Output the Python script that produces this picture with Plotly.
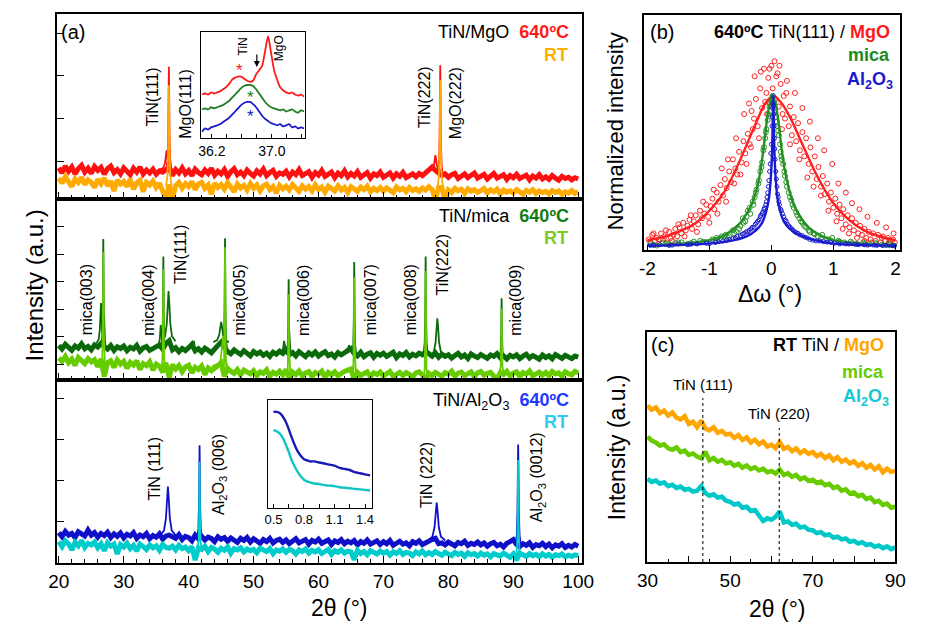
import numpy as np
import plotly.graph_objects as go

W, H = 928, 624
FONT = "Liberation Sans, Arial, Helvetica, sans-serif"

# ======================= DATA =======================
# ---- (a) 2theta scans 20-100 deg, background level every 0.5 deg (a.u.) ----
mgo_640_base = [
    0.84,0.72,0.88,0.76,0.86,0.70,0.82,0.90,0.74,0.83,
    0.71,0.87,0.78,0.85,0.69,0.82,0.88,0.73,0.80,0.70,
    0.84,0.76,0.68,0.83,0.74,0.86,0.70,0.79,0.72,0.81,
    0.69,0.77,0.74,0.80,0.82,0.66,0.80,0.72,0.84,0.70,
    0.78,0.66,0.81,0.73,0.68,0.79,0.71,0.83,0.67,0.76,
    0.70,0.80,0.64,0.75,0.82,0.68,0.74,0.66,0.79,0.71,
    0.65,0.77,0.70,0.81,0.66,0.73,0.78,0.64,0.72,0.69,
    0.76,0.63,0.74,0.68,0.80,0.66,0.71,0.75,0.62,0.73,
    0.67,0.78,0.64,0.70,0.74,0.61,0.72,0.66,0.77,0.63,
    0.71,0.65,0.75,0.62,0.69,0.73,0.60,0.70,0.66,0.74,
    0.62,0.68,0.72,0.60,0.70,0.64,0.73,0.61,0.67,0.70,
    0.63,0.71,0.66,0.74,0.80,0.86,0.78,0.72,0.66,0.70,
    0.62,0.68,0.71,0.59,0.66,0.70,0.61,0.67,0.72,0.60,
    0.65,0.69,0.58,0.66,0.71,0.60,0.64,0.68,0.57,0.66,
    0.61,0.69,0.59,0.64,0.67,0.56,0.65,0.60,0.68,0.58,
    0.63,0.57,0.66,0.60,0.55,0.64,0.59,0.62,0.56,0.61,
    0.58]
mgo_rt_base = [
    0.60,0.48,0.63,0.52,0.40,0.58,0.50,0.62,0.45,0.56,
    0.50,0.38,0.57,0.47,0.60,0.42,0.53,0.30,0.55,0.46,
    0.52,0.40,0.58,0.34,0.49,0.55,0.28,0.50,0.44,0.53,
    0.38,0.48,0.30,0.10,0.45,0.12,0.42,0.50,0.36,0.47,
    0.40,0.52,0.33,0.46,0.50,0.36,0.44,0.22,0.48,0.38,
    0.45,0.34,0.49,0.40,0.28,0.46,0.37,0.43,0.32,0.47,
    0.36,0.44,0.30,0.42,0.46,0.33,0.40,0.25,0.43,0.35,
    0.41,0.32,0.45,0.37,0.29,0.42,0.34,0.40,0.30,0.44,
    0.33,0.39,0.27,0.41,0.35,0.30,0.42,0.32,0.38,0.26,
    0.40,0.34,0.29,0.39,0.33,0.41,0.28,0.36,0.31,0.38,
    0.30,0.37,0.33,0.26,0.39,0.32,0.36,0.28,0.38,0.31,
    0.35,0.29,0.37,0.32,0.40,0.33,0.08,0.38,0.38,0.06,
    0.32,0.26,0.36,0.30,0.34,0.24,0.35,0.29,0.33,0.27,
    0.31,0.36,0.25,0.33,0.28,0.34,0.23,0.32,0.27,0.30,
    0.25,0.33,0.28,0.22,0.31,0.27,0.33,0.24,0.30,0.26,
    0.29,0.23,0.31,0.26,0.30,0.22,0.28,0.25,0.31,0.24,
    0.28]
mica_640_base = [
    1.68,1.55,1.72,1.60,1.50,1.66,1.58,1.74,1.56,1.64,
    1.52,1.70,1.62,1.75,1.65,1.55,1.68,1.50,1.63,1.57,
    1.66,1.49,1.61,1.55,1.68,1.47,1.59,1.64,1.50,1.58,
    1.62,1.70,1.54,1.75,1.85,1.52,1.60,1.45,1.57,1.49,
    1.60,1.72,1.48,1.56,1.44,1.58,1.50,1.41,1.55,1.70,
    1.80,1.62,1.45,1.38,1.52,1.43,1.35,1.49,1.40,1.30,
    1.46,1.37,1.44,1.32,1.40,1.28,1.43,1.36,1.47,1.39,
    1.52,1.34,1.42,1.30,1.45,1.36,1.27,1.41,1.33,1.44,
    1.29,1.38,1.45,1.31,1.37,1.26,1.42,1.34,1.40,1.50,
    1.56,1.38,1.30,1.43,1.27,1.36,1.41,1.25,1.39,1.32,
    1.40,1.28,1.35,1.43,1.24,1.37,1.31,1.42,1.26,1.36,
    1.30,1.40,1.34,1.45,1.38,1.29,1.41,1.25,1.36,1.28,
    1.34,1.22,1.31,1.39,1.26,1.33,1.20,1.37,1.29,1.24,
    1.35,1.27,1.21,1.33,1.28,1.38,1.23,1.30,1.19,1.32,
    1.26,1.34,1.20,1.29,1.36,1.22,1.31,1.25,1.18,1.33,
    1.24,1.30,1.19,1.35,1.27,1.21,1.32,1.26,1.20,1.29,
    1.25]
mica_rt_base = [
    1.22,1.10,1.28,1.05,1.18,0.95,1.24,1.12,1.02,1.20,
    1.08,1.16,0.90,1.19,0.55,1.05,1.12,0.88,1.15,1.00,
    1.10,0.85,1.06,0.96,1.12,0.80,1.02,0.94,1.08,0.78,
    1.00,0.92,0.70,1.05,0.50,0.98,0.82,0.95,0.72,0.90,
    0.96,0.68,0.88,0.80,0.93,0.62,0.86,0.76,0.90,0.95,
    1.05,0.55,0.85,0.74,0.66,0.80,0.60,0.78,0.70,0.64,
    0.76,0.58,0.72,0.66,0.79,0.56,0.70,0.63,0.74,0.60,
    0.80,0.45,0.71,0.62,0.75,0.57,0.68,0.73,0.55,0.69,
    0.64,0.74,0.52,0.70,0.61,0.72,0.58,0.67,0.73,0.78,
    0.82,0.40,0.70,0.59,0.66,0.72,0.54,0.68,0.62,0.71,
    0.57,0.67,0.73,0.55,0.65,0.70,0.58,0.69,0.63,0.52,
    0.68,0.72,0.60,0.45,0.66,0.58,0.70,0.62,0.56,0.69,
    0.63,0.74,0.55,0.67,0.71,0.58,0.65,0.72,0.54,0.68,
    0.73,0.60,0.66,0.70,0.56,0.45,0.69,0.62,0.74,0.58,
    0.67,0.72,0.55,0.69,0.64,0.75,0.57,0.66,0.71,0.60,
    0.70,0.58,0.73,0.64,0.68,0.56,0.72,0.65,0.61,0.74,
    0.68]
al2o3_640_base = [
    0.72,0.62,0.75,0.66,0.70,0.60,0.74,0.68,0.64,0.78,
    0.66,0.72,0.61,0.70,0.65,0.73,0.60,0.69,0.63,0.71,
    0.59,0.68,0.64,0.72,0.58,0.66,0.62,0.70,0.57,0.65,
    0.61,0.69,0.56,0.64,0.66,0.62,0.58,0.67,0.55,0.63,
    0.60,0.52,0.66,0.57,0.63,0.54,0.61,0.58,0.50,0.62,
    0.56,0.60,0.51,0.59,0.55,0.48,0.58,0.53,0.60,0.49,
    0.57,0.52,0.46,0.55,0.50,0.58,0.47,0.53,0.56,0.48,
    0.54,0.45,0.52,0.57,0.47,0.51,0.55,0.44,0.53,0.49,
    0.56,0.46,0.50,0.54,0.43,0.52,0.48,0.55,0.45,0.51,
    0.47,0.53,0.42,0.50,0.46,0.54,0.44,0.49,0.52,0.43,
    0.50,0.45,0.53,0.41,0.48,0.51,0.44,0.47,0.40,0.50,
    0.46,0.52,0.43,0.48,0.50,0.55,0.58,0.45,0.47,0.42,
    0.49,0.44,0.40,0.48,0.45,0.51,0.41,0.46,0.43,0.49,
    0.42,0.47,0.39,0.45,0.48,0.40,0.44,0.37,0.46,0.50,
    0.55,0.43,0.38,0.45,0.41,0.47,0.36,0.43,0.40,0.46,
    0.38,0.44,0.35,0.42,0.39,0.45,0.36,0.41,0.37,0.43,
    0.39]
al2o3_rt_base = [
    0.50,0.38,0.52,0.44,0.30,0.48,0.40,0.53,0.36,0.46,
    0.42,0.49,0.35,0.45,0.28,0.47,0.39,0.44,0.20,0.43,
    0.37,0.46,0.33,0.41,0.27,0.44,0.38,0.31,0.42,0.35,
    0.40,0.29,0.43,0.36,0.34,0.39,0.30,0.41,0.33,0.37,
    0.28,0.38,0.05,0.35,0.31,0.39,0.26,0.36,0.32,0.24,
    0.34,0.29,0.37,0.22,0.33,0.30,0.35,0.25,0.32,0.28,
    0.31,0.23,0.34,0.29,0.26,0.33,0.21,0.30,0.27,0.32,
    0.24,0.31,0.28,0.20,0.30,0.26,0.32,0.22,0.29,0.25,
    0.30,0.21,0.27,0.31,0.19,0.28,0.24,0.30,0.22,0.27,
    0.25,0.06,0.29,0.21,0.26,0.18,0.28,0.23,0.20,0.27,
    0.22,0.26,0.17,0.25,0.21,0.28,0.19,0.24,0.22,0.16,
    0.25,0.20,0.27,0.18,0.23,0.19,0.26,0.21,0.17,0.24,
    0.20,0.16,0.24,0.19,0.22,0.14,0.23,0.18,0.21,0.15,
    0.22,0.17,0.20,0.13,0.21,0.18,0.15,0.22,0.16,0.12,
    0.20,0.05,0.22,0.17,0.14,0.21,0.16,0.19,0.13,0.20,
    0.15,0.19,0.12,0.18,0.16,0.20,0.13,0.17,0.14,0.18,
    0.16]

# peaks: position (deg), apex (a.u.), fwhm (deg)
mgo_640_pk_pos  = [36.6, 36.95, 78.0, 78.75]
mgo_640_pk_top  = [1.25, 3.21, 1.14, 3.25]
mgo_640_pk_fwhm = [0.40, 0.16, 0.35, 0.16]
mgo_rt_pk_pos   = [36.95, 78.75]
mgo_rt_pk_top   = [2.78, 2.90]
mgo_rt_pk_fwhm  = [0.18, 0.18]

mica_640_pk_pos  = [26.5, 26.85, 35.7, 36.1, 36.9, 40.8, 45.0, 45.6, 54.7, 55.4, 64.7, 65.5, 76.5, 78.3, 88.2]
mica_640_pk_top  = [3.23, 5.56, 2.42, 4.92, 3.66, 1.85, 2.54, 5.59, 1.85, 4.09, 1.69, 4.72, 4.92, 2.67, 3.40]
mica_640_pk_fwhm = [0.30, 0.12, 0.25, 0.12, 0.45, 0.15, 0.50, 0.12, 0.25, 0.12, 0.25, 0.12, 0.12, 0.45, 0.12]
mica_rt_pk_pos   = [26.85, 36.1, 45.3, 45.6, 55.4, 65.5, 76.5, 88.2]
mica_rt_pk_top   = [5.10, 4.47, 2.00, 5.26, 3.55, 4.16, 4.39, 3.03]
mica_rt_pk_fwhm  = [0.12, 0.12, 0.60, 0.12, 0.12, 0.12, 0.12, 0.12]

al2o3_640_pk_pos  = [36.8, 41.68, 78.2, 90.75]
al2o3_640_pk_top  = [1.84, 2.85, 1.45, 2.87]
al2o3_640_pk_fwhm = [0.50, 0.15, 0.55, 0.18]
al2o3_rt_pk_pos   = [41.68, 90.75]
al2o3_rt_pk_top   = [2.45, 2.49]
al2o3_rt_pk_fwhm  = [0.12, 0.14]

# ---- inset of (a)-top: zoom on TiN(111)/MgO(111) ----
ins1_x = [36.07,36.11,36.15,36.19,36.23,36.27,36.31,36.35,36.39,36.43,36.47,36.51,
          36.55,36.59,36.63,36.67,36.71,36.75,36.79,36.83,36.87,36.91,36.95,36.99,
          37.03,37.07,37.11,37.15,37.19,37.23,37.27,37.31,37.35,37.39,37.43]
ins1_mgo = [0.41,0.42,0.41,0.43,0.42,0.43,0.44,0.46,0.48,0.51,0.55,0.57,
            0.58,0.58,0.56,0.54,0.53,0.54,0.60,0.64,0.68,0.82,0.96,0.80,
            0.64,0.55,0.48,0.45,0.43,0.42,0.43,0.41,0.40,0.41,0.39]
ins1_mica = [0.27,0.28,0.27,0.29,0.28,0.29,0.30,0.31,0.33,0.35,0.38,0.41,
             0.44,0.47,0.49,0.50,0.50,0.49,0.46,0.42,0.38,0.34,0.31,0.29,
             0.28,0.27,0.26,0.27,0.25,0.26,0.27,0.25,0.24,0.26,0.25]
ins1_al2o3 = [0.06,0.09,0.08,0.10,0.11,0.12,0.13,0.15,0.17,0.19,0.22,0.25,
              0.28,0.31,0.33,0.34,0.34,0.32,0.29,0.25,0.21,0.18,0.16,0.14,
              0.13,0.12,0.13,0.11,0.12,0.13,0.10,0.11,0.09,0.10,0.09]

# ---- inset of (a)-bottom: low-angle reflectivity ----
ins2_x = [0.50,0.53,0.56,0.59,0.62,0.65,0.68,0.71,0.74,0.77,0.80,0.83,0.86,
          0.90,0.95,1.00,1.05,1.10,1.15,1.20,1.25,1.30,1.35,1.40,1.45]
ins2_640 = [0.89,0.89,0.88,0.85,0.80,0.73,0.65,0.58,0.52,0.48,0.45,0.44,0.43,
            0.43,0.42,0.41,0.40,0.39,0.37,0.36,0.35,0.33,0.32,0.31,0.30]
ins2_rt = [0.72,0.71,0.69,0.65,0.59,0.52,0.44,0.38,0.33,0.29,0.26,0.245,0.235,
           0.225,0.22,0.21,0.205,0.20,0.19,0.185,0.18,0.175,0.17,0.165,0.16]

# ---- (b) rocking curves TiN(111), 640 C ----
b_mgo_pts_x = [-1.98,-1.95,-1.92,-1.88,-1.85,-1.82,-1.78,-1.75,-1.72,-1.68,-1.65,-1.62,-1.58,-1.55,
    -1.52,-1.48,-1.45,-1.42,-1.38,-1.35,-1.32,-1.28,-1.25,-1.22,-1.18,-1.15,-1.12,-1.08,-1.05,-1.02,
    -0.98,-0.95,-0.92,-0.88,-0.85,-0.82,-0.78,-0.75,-0.72,-0.68,-0.65,-0.62,-0.58,-0.55,-0.52,-0.48,
    -0.45,-0.42,-0.38,-0.35,-0.32,-0.30,-0.28,-0.25,-0.22,-0.18,-0.15,-0.12,-0.10,-0.08,-0.05,-0.02,
    0.00,0.02,0.05,0.07,0.10,0.12,0.15,0.18,0.20,0.22,0.25,0.28,0.30,0.33,0.36,0.40,0.43,0.46,0.50,
    0.53,0.56,0.60,0.63,0.66,0.70,0.73,0.76,0.80,0.83,0.86,0.90,0.93,0.96,1.00,1.03,1.06,1.10,1.13,
    1.16,1.20,1.23,1.26,1.30,1.33,1.36,1.40,1.43,1.46,1.50,1.53,1.57,1.60,1.64,1.68,1.72,1.76,1.80,
    1.84,1.88,1.92,1.96,1.99,
    -1.90,-1.80,-1.70,-1.60,-1.50,-1.40,-1.30,-1.20,-1.10,-1.00,-0.93,-0.87,-0.80,-0.73,-0.70,-0.60,
    -0.57,-0.50,-0.44,-0.40,-0.36,-0.33,-0.27,-0.20,-0.17,-0.07,-0.03,0.08,0.13,0.17,0.24,0.30,0.38,
    0.45,0.50,0.58,0.62,0.68,0.75,0.80,0.85,0.92,0.98,1.05,1.08,1.15,1.20,1.25,1.30,1.38,1.42,1.50,
    1.55,1.62,1.70,1.78,1.85,1.90,1.97]
b_mgo_pts_y = [0.05,0.03,0.08,0.04,0.06,0.02,0.09,0.05,0.07,0.03,0.10,0.06,0.08,0.12,
    0.07,0.13,0.09,0.16,0.11,0.14,0.18,0.12,0.17,0.21,0.15,0.24,0.19,0.22,0.28,0.20,
    0.27,0.32,0.25,0.36,0.30,0.41,0.34,0.45,0.39,0.50,0.43,0.58,0.52,0.48,0.63,0.56,
    0.70,0.62,0.75,0.68,0.90,0.78,0.85,0.98,0.80,1.05,0.92,1.18,0.96,1.02,1.12,0.95,
    1.20,1.05,1.23,0.98,1.15,0.93,1.08,0.88,1.00,0.85,1.10,0.80,0.93,0.74,0.86,0.70,0.82,0.64,0.76,
    0.60,0.72,0.55,0.66,0.50,0.60,0.45,0.53,0.40,0.47,0.35,0.42,0.30,0.36,0.26,0.32,0.22,0.28,0.19,
    0.25,0.15,0.21,0.13,0.19,0.11,0.16,0.09,0.14,0.08,0.12,0.06,0.10,0.05,0.09,0.04,0.08,0.03,0.07,
    0.04,0.06,0.02,0.05,0.03,
    0.09,0.05,0.11,0.04,0.15,0.07,0.21,0.10,0.30,0.16,0.38,0.22,0.52,0.30,0.58,0.42,
    0.72,0.48,0.88,0.55,0.95,0.66,1.13,0.72,1.16,0.88,1.18,1.13,1.20,0.78,1.02,0.68,1.02,
    0.58,0.92,0.46,0.83,0.40,0.72,0.34,0.64,0.24,0.55,0.17,0.42,0.12,0.36,0.09,0.29,0.06,0.25,0.04,
    0.20,0.03,0.16,0.06,0.13,0.03,0.09]
b_mgo_fit_x = [-2.0,-1.75,-1.5,-1.25,-1.0,-0.75,-0.5,-0.25,-0.1,0.03,0.15,0.3,0.5,0.75,1.0,1.25,1.5,1.75,2.0]
b_mgo_fit_y = [0.045,0.065,0.10,0.15,0.24,0.37,0.58,0.82,0.95,1.0,0.96,0.86,0.68,0.46,0.29,0.18,0.11,0.07,0.045]

b_mica_pts_x = [-1.95,-1.85,-1.75,-1.65,-1.55,-1.45,-1.35,-1.25,-1.15,-1.05,-0.95,-0.88,-0.80,-0.74,
    -0.68,-0.62,-0.56,-0.50,-0.46,-0.42,-0.38,-0.34,-0.30,-0.27,-0.24,-0.21,-0.18,-0.15,-0.13,-0.10,
    -0.08,-0.05,-0.03,0.00,0.02,0.04,0.06,0.08,0.10,0.12,0.14,0.16,0.19,0.22,0.25,0.28,0.32,0.36,0.40,
    0.45,0.50,0.56,0.62,0.68,0.75,0.82,0.90,0.98,1.08,1.18,1.28,1.38,1.48,1.58,1.68,1.78,1.88,1.98,
    -1.90,-1.70,-1.50,-1.30,-1.10,-0.90,-0.80,-0.70,-0.60,-0.52,-0.45,-0.40,-0.35,-0.29,-0.25,-0.20,
    -0.16,-0.12,-0.09,-0.06,0.01,0.05,0.09,0.11,0.15,0.17,0.21,0.24,0.30,0.34,0.42,0.48,0.53,0.60,
    0.70,0.80,0.95,1.10,1.30,1.50,1.70,1.90]
b_mica_pts_y = [0.02,0.01,0.03,0.02,0.025,0.03,0.02,0.035,0.04,0.03,0.05,0.06,0.05,0.08,
    0.07,0.11,0.10,0.14,0.19,0.17,0.24,0.22,0.30,0.33,0.38,0.42,0.50,0.56,0.64,0.72,
    0.78,0.88,0.93,0.97,1.00,0.96,0.92,0.86,0.80,0.74,0.68,0.60,0.55,0.47,0.40,0.36,0.31,0.26,0.23,
    0.19,0.16,0.13,0.10,0.09,0.07,0.08,0.05,0.06,0.04,0.03,0.035,0.02,0.03,0.02,0.025,0.015,0.02,0.01,
    0.015,0.02,0.03,0.025,0.035,0.04,0.07,0.06,0.09,0.12,0.16,0.20,0.26,0.28,0.36,0.44,
    0.53,0.66,0.76,0.84,0.98,0.95,0.83,0.77,0.63,0.58,0.50,0.43,0.33,0.28,0.21,0.17,0.14,0.11,
    0.085,0.06,0.045,0.035,0.025,0.02,0.02,0.012]
b_mica_fit_x = [-2.0,-1.5,-1.0,-0.75,-0.5,-0.4,-0.3,-0.2,-0.15,-0.1,-0.05,0.02,0.08,0.13,0.18,
    0.25,0.35,0.45,0.6,0.8,1.0,1.5,2.0]
b_mica_fit_y = [0.012,0.02,0.045,0.08,0.16,0.22,0.30,0.45,0.58,0.74,0.90,1.0,0.92,0.77,0.60,
    0.44,0.29,0.21,0.13,0.075,0.045,0.02,0.012]

b_al2o3_pts_x = [-1.95,-1.8,-1.65,-1.5,-1.35,-1.2,-1.05,-0.9,-0.78,-0.68,-0.58,-0.50,-0.44,-0.38,
    -0.33,-0.28,-0.24,-0.20,-0.17,-0.14,-0.11,-0.08,-0.06,-0.04,-0.02,0.00,0.01,0.02,0.03,0.04,0.05,
    0.06,0.08,0.10,0.12,0.15,0.18,0.22,0.26,0.30,0.35,0.40,0.46,0.54,0.62,0.72,0.84,0.96,1.1,1.25,
    1.4,1.55,1.7,1.85,1.98,
    -1.9,-1.6,-1.3,-1.0,-0.85,-0.72,-0.62,-0.55,-0.47,-0.41,-0.36,-0.31,-0.26,-0.22,-0.18,-0.15,
    -0.12,-0.09,-0.07,-0.05,-0.03,-0.01,0.015,0.025,0.035,0.045,0.055,0.07,0.09,0.11,0.13,0.16,0.2,
    0.24,0.28,0.33,0.38,0.43,0.5,0.58,0.67,0.78,0.9,1.02,1.2,1.35,1.5,1.65,1.8,1.95]
b_al2o3_pts_y = [0.01,0.015,0.01,0.02,0.015,0.02,0.025,0.03,0.04,0.05,0.06,0.075,0.09,0.10,
    0.12,0.13,0.16,0.18,0.21,0.23,0.26,0.30,0.36,0.44,0.55,0.68,0.80,0.92,1.0,0.88,0.72,
    0.58,0.45,0.35,0.30,0.25,0.22,0.18,0.15,0.13,0.11,0.095,0.08,0.065,0.05,0.04,0.035,0.03,0.02,0.02,
    0.015,0.012,0.01,0.01,0.008,
    0.012,0.012,0.018,0.022,0.035,0.045,0.055,0.07,0.085,0.10,0.11,0.13,0.15,0.17,0.20,0.22,
    0.25,0.28,0.33,0.40,0.50,0.62,0.86,0.95,0.94,0.80,0.65,0.50,0.40,0.33,0.28,0.24,0.20,
    0.17,0.14,0.12,0.10,0.09,0.075,0.06,0.045,0.04,0.032,0.025,0.02,0.018,0.014,0.012,0.01,0.009]
b_al2o3_fit_x = [-2.0,-1.5,-1.0,-0.6,-0.4,-0.25,-0.15,-0.08,-0.04,-0.01,0.01,0.02,0.03,0.04,0.05,
    0.07,0.10,0.14,0.2,0.3,0.45,0.65,1.0,1.5,2.0]
b_al2o3_fit_y = [0.008,0.012,0.022,0.045,0.07,0.11,0.16,0.24,0.32,0.45,0.62,0.80,1.0,0.80,0.62,
    0.45,0.32,0.24,0.17,0.12,0.08,0.05,0.022,0.012,0.008]

# ---- (c) RT 2theta scans 30-90 deg every 1 deg (a.u.) ----
c_mgo = [6.80,6.62,6.72,6.48,6.58,6.36,6.50,6.28,6.20,6.34,
         6.00,6.10,5.86,6.15,5.80,5.72,5.86,5.62,5.70,5.54,
         5.58,5.40,5.52,5.30,5.42,5.20,5.32,5.12,5.24,5.02,
         5.10,4.95,5.22,4.92,5.00,4.82,4.94,4.74,4.86,4.70,
         4.78,4.60,4.70,4.52,4.64,4.42,4.56,4.36,4.46,4.28,
         4.38,4.18,4.30,4.10,4.22,4.02,4.16,3.90,4.06,3.92,
         3.96]
c_mica = [5.45,5.28,5.20,5.06,5.12,4.94,4.88,4.98,4.78,4.84,
          4.66,4.72,4.58,4.50,4.80,4.42,4.52,4.36,4.44,4.28,
          4.34,4.18,4.26,4.10,4.20,4.04,4.12,3.98,4.06,3.90,
          3.96,3.84,4.02,3.78,3.86,3.70,3.78,3.60,3.68,3.52,
          3.58,3.44,3.50,3.34,3.40,3.22,3.28,3.10,3.16,2.98,
          3.02,2.86,2.92,2.74,2.80,2.60,2.66,2.48,2.54,2.36,
          2.40]
c_al2o3 = [3.62,3.48,3.54,3.40,3.46,3.30,3.36,3.22,3.28,3.14,
           3.18,3.06,3.10,3.30,3.00,2.88,2.94,2.80,2.84,2.66,
           2.62,2.50,2.54,2.36,2.40,2.22,2.26,2.02,1.78,1.90,
           1.84,1.96,2.20,1.72,1.76,1.62,1.66,1.50,1.54,1.40,
           1.38,1.26,1.30,1.16,1.20,1.06,1.10,0.98,1.02,0.88,
           0.92,0.80,0.86,0.74,0.78,0.66,0.72,0.60,0.68,0.56,
           0.64]
c_ref_pos = [43.4, 61.9]          # TiN (111), TiN (220) reference positions
c_ref_top = [7.13, 5.83]
c_ref_labels = ["TiN (111)", "TiN (220)"]

# ======================= STYLE =======================
RED, ORANGE = "#FF1010", "#FFAA00"
DGREEN, LGREEN = "#0A6A0A", "#66CC00"
BLUE, CYAN = "#1010C8", "#00CCCC"
PEAK_DX = [-2.4, -1.2, -0.6, -0.25, 0.0, 0.25, 0.6, 1.2, 2.4]      # in units of fwhm
PEAK_FRAC = [0.0, 0.1, 0.35, 0.78, 1.0, 0.78, 0.35, 0.1, 0.0]

def xp(px):
    return px / W

def yp(py):
    return 1 - py / H

fig = go.Figure()

def add_scan(base, pk_pos, pk_top, pk_fwhm, color, xa, ya):
    bx = np.linspace(20.0, 100.0, len(base))
    by = np.array(base)
    fig.add_trace(go.Scatter(x=bx, y=by, mode="lines", xaxis=xa, yaxis=ya,
                             line=dict(color=color, width=5), hoverinfo="skip"))
    xs, ys = [], []
    for p, t, w in zip(pk_pos, pk_top, pk_fwhm):
        b = float(np.interp(p, bx, by))
        for dx, f in zip(PEAK_DX, PEAK_FRAC):
            xs.append(p + dx * w)
            ys.append(b + f * (t - b))
        xs.append(None)
        ys.append(None)
    fig.add_trace(go.Scatter(x=xs, y=ys, mode="lines", xaxis=xa, yaxis=ya,
                             line=dict(color=color, width=1.8), hoverinfo="skip"))

add_scan(mgo_640_base, mgo_640_pk_pos, mgo_640_pk_top, mgo_640_pk_fwhm, RED, "x", "y")
add_scan(mgo_rt_base, mgo_rt_pk_pos, mgo_rt_pk_top, mgo_rt_pk_fwhm, ORANGE, "x", "y")
add_scan(mica_640_base, mica_640_pk_pos, mica_640_pk_top, mica_640_pk_fwhm, DGREEN, "x2", "y2")
add_scan(mica_rt_base, mica_rt_pk_pos, mica_rt_pk_top, mica_rt_pk_fwhm, LGREEN, "x2", "y2")
add_scan(al2o3_640_base, al2o3_640_pk_pos, al2o3_640_pk_top, al2o3_640_pk_fwhm, BLUE, "x3", "y3")
add_scan(al2o3_rt_base, al2o3_rt_pk_pos, al2o3_rt_pk_top, al2o3_rt_pk_fwhm, CYAN, "x3", "y3")

# insets
for yv, col in [(ins1_mgo, "#FF1A1A"), (ins1_mica, "#1E7D1E"), (ins1_al2o3, "#1A1ACC")]:
    fig.add_trace(go.Scatter(x=ins1_x, y=yv, mode="lines", xaxis="x6", yaxis="y6",
                             line=dict(color=col, width=1.8, shape="spline", smoothing=0.6)))
for yv, col in [(ins2_640, "#1A1AB4"), (ins2_rt, "#10C4C4")]:
    fig.add_trace(go.Scatter(x=ins2_x, y=yv, mode="lines", xaxis="x7", yaxis="y7",
                             line=dict(color=col, width=2.4, shape="spline")))

# (b)
for px_, py_, fx, fy, col, msize in [
        (b_mgo_pts_x, b_mgo_pts_y, b_mgo_fit_x, b_mgo_fit_y, "#FF2020", 5),
        (b_mica_pts_x, b_mica_pts_y, b_mica_fit_x, b_mica_fit_y, "#249024", 5),
        (b_al2o3_pts_x, b_al2o3_pts_y, b_al2o3_fit_x, b_al2o3_fit_y, "#1A1AD0", 4)]:
    fig.add_trace(go.Scatter(x=px_, y=py_, mode="markers", xaxis="x4", yaxis="y4",
                             marker=dict(symbol="circle-open", size=msize, color=col,
                                         line=dict(width=1, color=col))))
    fig.add_trace(go.Scatter(x=fx, y=fy, mode="lines", xaxis="x4", yaxis="y4",
                             line=dict(color=col, width=2.4, shape="spline", smoothing=0.8)))

# (c)
cx = np.linspace(30.0, 90.0, len(c_mgo))
for yv, col in [(c_mgo, "#FFA500"), (c_mica, "#66CC00"), (c_al2o3, "#00C8C8")]:
    fig.add_trace(go.Scatter(x=cx, y=yv, mode="lines", xaxis="x5", yaxis="y5",
                             line=dict(color=col, width=4.5)))
rx, ry = [], []
for p, t in zip(c_ref_pos, c_ref_top):
    rx += [p, p, None]
    ry += [0, t, None]
fig.add_trace(go.Scatter(x=rx, y=ry, mode="lines", xaxis="x5", yaxis="y5",
                         line=dict(color="black", width=1, dash="dot")))

# ======================= AXES =======================
def frame(**kw):
    d = dict(showline=True, mirror=True, linecolor="black", linewidth=1.5,
             zeroline=False, showgrid=False, tickcolor="black", tickwidth=1.2,
             tickfont=dict(family=FONT, size=19, color="black"))
    d.update(kw)
    return d

A_DOM_X = [xp(48), xp(586)]
a_x = dict(domain=A_DOM_X, range=[19.70, 100.60], tickvals=list(range(20, 101, 10)),
           ticks="inside", ticklen=7, minor=dict(dtick=2, ticks="inside", ticklen=4,
                                                  tickcolor="black", tickwidth=1))
lay = dict(
    xaxis=frame(**a_x, anchor="y", showticklabels=False),
    yaxis=frame(domain=[yp(199), yp(14)], range=[0.11, 4.45], tickvals=[1, 2, 3, 4],
                ticks="inside", ticklen=7, showticklabels=False, anchor="x"),
    xaxis2=frame(**a_x, anchor="y2", showticklabels=False),
    yaxis2=frame(domain=[yp(380), yp(199)], range=[0.42, 7.02], tickvals=[1, 2, 3, 4, 5, 6],
                 ticks="inside", ticklen=7, showticklabels=False, anchor="x2"),
    xaxis3=frame(**a_x, anchor="y3", showticklabels=True),
    yaxis3=frame(domain=[yp(563), yp(380)], range=[-0.02, 4.44], tickvals=[1, 2, 3, 4],
                 ticks="inside", ticklen=7, showticklabels=False, anchor="x3"),
    xaxis4=frame(domain=[xp(649), xp(912)], range=[-2.06, 2.08], tickvals=[-2, -1, 0, 1, 2],
                 ticktext=["-2", "-1", "0", "1", "2"],
                 ticks="inside", ticklen=5, anchor="y4"),
    yaxis4=frame(domain=[yp(250), yp(15)], range=[-0.02, 1.536], ticks="",
                 showticklabels=False, anchor="x4"),
    xaxis5=frame(domain=[xp(652), xp(907)], range=[29.76, 90.05],
                 tickvals=list(range(30, 91, 10)), ticktext=["30", "", "50", "", "70", "", "90"],
                 ticks="inside", ticklen=6, anchor="y5",
                 minor=dict(dtick=5, ticks="inside", ticklen=3, tickcolor="black", tickwidth=1)),
    yaxis5=frame(domain=[yp(562), yp(332)], range=[0, 10], ticks="", showticklabels=False,
                 anchor="x5"),
    xaxis6=frame(domain=[xp(196), xp(302)], range=[36.06, 37.44],
                 tickvals=[36.2, 36.4, 36.6, 36.8, 37.0, 37.2, 37.4],
                 ticktext=["36.2", "", "", "", "37.0", "", ""], ticks="inside", ticklen=4,
                 tickfont=dict(family=FONT, size=14, color="black"), anchor="y6", linewidth=1.3),
    yaxis6=frame(domain=[yp(138), yp(32)], range=[0, 1.0], ticks="", showticklabels=False,
                 anchor="x6", linewidth=1.3),
    xaxis7=frame(domain=[xp(264), xp(370.5)], range=[0.444, 1.466],
                 tickvals=[0.5, 0.65, 0.8, 0.95, 1.1, 1.25, 1.4],
                 ticktext=["0.5", "", "0.8", "", "1.1", "", "1.4"], ticks="inside", ticklen=4,
                 tickfont=dict(family=FONT, size=13, color="black"), anchor="y7", linewidth=1.3),
    yaxis7=frame(domain=[yp(507.7), yp(400)], range=[0, 1.0], ticks="", showticklabels=False,
                 anchor="x7", linewidth=1.3),
)

# ======================= TEXT =======================
def ann(text, px, py, size, color="black", angle=0, xanchor="center", yanchor="middle"):
    return dict(text=text, x=xp(px), y=yp(py), xref="paper", yref="paper", showarrow=False,
                font=dict(family=FONT, size=size, color=color), textangle=angle,
                xanchor=xanchor, yanchor=yanchor)

def col(txt, c, bold=True):
    s = "<span style='color:%s'>%s</span>" % (c, txt)
    return "<b>%s</b>" % s if bold else s

AL2O3 = "Al<sub>2</sub>O<sub>3</sub>"
anns = [
    ann("(a)", 65, 32, 20),
    ann("TiN/MgO  " + col("640ºC", "#FF1A1A"), 575, 32, 18, xanchor="right"),
    ann(col("RT", "#FFB000"), 574, 55, 18, xanchor="right"),
    ann("TiN(111)", 145, 97, 16, angle=-90),
    ann("MgO(111)", 180, 104, 16, angle=-90),
    ann("TiN(222)", 424, 97, 16, angle=-90),
    ann("MgO(222)", 457, 103, 16, angle=-90),
    ann("TiN/mica  " + col("640ºC", "#137D13"), 575, 216, 18, xanchor="right"),
    ann(col("RT", "#7ACC22"), 574, 238, 18, xanchor="right"),
    ann("mica(003)", 78, 300, 16, angle=-90),
    ann("mica(004)", 141, 300, 16, angle=-90),
    ann("TiN(111)", 174, 254, 16, angle=-90),
    ann("mica(005)", 235, 300, 16, angle=-90),
    ann("mica(006)", 300, 300, 16, angle=-90),
    ann("mica(007)", 369, 300, 16, angle=-90),
    ann("mica(008)", 410, 300, 16, angle=-90),
    ann("TiN(222)", 443, 264, 16, angle=-90),
    ann("mica(009)", 517, 300, 16, angle=-90),
    ann("TiN/" + AL2O3 + "  " + col("640ºC", "#2238FF"), 575, 401, 18, xanchor="right"),
    ann(col("RT", "#2ECCF5"), 574, 422, 18, xanchor="right"),
    ann("TiN (111)", 147, 469, 16, angle=-90),
    ann(AL2O3 + " (006)", 214, 474, 16, angle=-90),
    ann("TiN (222)", 426, 475, 16, angle=-90),
    ann(AL2O3 + " (0012)", 541, 477, 16, angle=-90),
    ann("Intensity (a.u.)", 26, 285, 24, angle=-90),
    ann("2θ (°)", 337, 608, 23),
    # (b)
    ann("(b)", 668, 32, 20),
    ann("<b>640ºC</b> TiN(111) / " + col("MgO", "#FF1A1A"), 903, 32, 18, xanchor="right"),
    ann(col("mica", "#1E8A1E"), 903, 55, 18, xanchor="right"),
    ann(col(AL2O3, "#1A1AD0"), 906, 80, 18, xanchor="right"),
    ann("Normalized intensity", 620, 131, 22, angle=-90),
    ann("Δω (°)", 778, 294, 23),
    # (c)
    ann("(c)", 668, 345, 20),
    ann("<b>RT</b> TiN / " + col("MgO", "#FFA500"), 897, 345, 18, xanchor="right"),
    ann(col("mica", "#66CC00"), 897, 372, 18, xanchor="right"),
    ann(col(AL2O3, "#12C8D4"), 902, 397, 18, xanchor="right"),
    ann("Intensity (a.u.)", 622, 447, 23, angle=-90),
    ann("2θ (°)", 786, 609, 23),
]
for lab, p, t in zip(c_ref_labels, c_ref_pos, c_ref_top):
    anns.append(dict(text=lab, x=p, y=t, xref="x5", yref="y5", showarrow=False, yshift=14,
                     font=dict(family=FONT, size=15, color="black"), xanchor="center",
                     yanchor="middle"))
# inset-1 markers
anns += [
    dict(text="TiN", x=36.61, y=0.86, xref="x6", yref="y6", showarrow=False, textangle=-90,
         font=dict(family=FONT, size=12, color="black")),
    dict(text="MgO", x=37.10, y=0.85, xref="x6", yref="y6", showarrow=False, textangle=-90,
         font=dict(family=FONT, size=12, color="black")),
    dict(text="*", x=36.57, y=0.67, xref="x6", yref="y6", showarrow=False, yshift=-4,
         font=dict(family=FONT, size=17, color="#FF1A1A")),
    dict(text="*", x=36.72, y=0.42, xref="x6", yref="y6", showarrow=False, yshift=-4,
         font=dict(family=FONT, size=17, color="#1E7D1E")),
    dict(text="*", x=36.72, y=0.245, xref="x6", yref="y6", showarrow=False, yshift=-4,
         font=dict(family=FONT, size=17, color="#1A1ACC")),
    dict(text="", x=36.8, y=0.67, xref="x6", yref="y6", showarrow=True, ax=0, ay=-14,
         arrowhead=2, arrowsize=1, arrowwidth=1.2, arrowcolor="black"),
]

fig.update_layout(**lay)
fig.update_layout(width=W, height=H, margin=dict(l=0, r=0, t=0, b=0),
                  paper_bgcolor="white", plot_bgcolor="white", showlegend=False,
                  annotations=anns, font=dict(family=FONT))
fig.write_html("out.html", config={"displayModeBar": False},
               post_script="document.body.style.margin='0';document.body.style.overflow='hidden';")
